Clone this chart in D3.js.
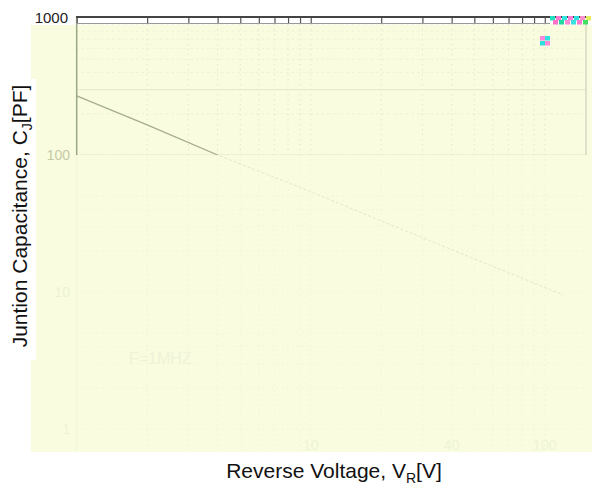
<!DOCTYPE html>
<html>
<head>
<meta charset="utf-8">
<script src="https://cdn.jsdelivr.net/npm/d3@7"></script>
<style>
  body { margin: 0; background: #fff; }
  svg { display: block; font-family: "Liberation Sans", Arial, sans-serif; }
</style>
</head>
<body>
<svg id="chart" width="592" height="491"></svg>
<script>
/* Junction capacitance vs reverse voltage, log-log */

// reverse voltage (V) and junction capacitance (pF)
var voltage = [1, 2, 4, 10, 20, 40, 100, 120];
var capacitance = [270, 166, 100, 54, 33, 20.4, 10.8, 9.5];

// tick labels
var yTickValues = [1000, 100, 10, 1];
var xTickLabels = [10, 40, 100];
var xTickValues = [1, 2, 3, 4, 5, 6, 7, 8, 9, 10, 20, 30, 40, 50, 60, 70, 80, 90, 100];
var yGridValues = [200, 300, 400, 500, 600, 700, 800, 900, 100, 20, 30, 40, 50, 10, 2, 3, 4, 5];

var noteText = "F=1MHZ";

var svg = d3.select("#chart");

var x = d3.scaleLog().domain([1, 150]).range([76.7, 586]);
var y = d3.scaleLog().domain([1, 1000]).range([429, 18]);

// yellow panel
svg.append("rect")
  .attr("x", 31).attr("y", 25)
  .attr("width", 561).attr("height", 427)
  .attr("fill", "#f9fcdf");

// clip for the upper (stronger) part of the plot
var defs = svg.append("defs");
defs.append("clipPath").attr("id", "upper")
  .append("rect").attr("x", 70).attr("y", 10).attr("width", 522).attr("height", 145);

// faint grid over the whole plot
var faint = svg.append("g");
faint.selectAll(".vg").data(xTickValues).enter().append("line")
  .attr("x1", d => x(d)).attr("x2", d => x(d))
  .attr("y1", 24).attr("y2", 450)
  .attr("stroke", "#f2f7d8").attr("stroke-dasharray", "2,3");
faint.selectAll(".hg").data(yGridValues.concat([1])).enter().append("line")
  .attr("x1", 76.7).attr("x2", 586)
  .attr("y1", d => y(d)).attr("y2", d => y(d))
  .attr("stroke", "#f2f7d8").attr("stroke-dasharray", "2,3");

// the curve, faint everywhere
var line = d3.line()
  .x(d => x(d[0]))
  .y(d => y(d[1]));
var pts = d3.zip(voltage, capacitance);

svg.append("path")
  .datum(pts)
  .attr("d", line)
  .attr("fill", "none")
  .attr("stroke", "#e2eac4")
  .attr("stroke-width", 1)
  .attr("stroke-dasharray", "3,2");

// upper region is drawn with more contrast
var up = svg.append("g").attr("clip-path", "url(#upper)");
up.selectAll(".vg").data(xTickValues).enter().append("line")
  .attr("x1", d => x(d)).attr("x2", d => x(d))
  .attr("y1", 24).attr("y2", 155)
  .attr("stroke", "#e3e7c8").attr("stroke-dasharray", "1,4");
up.selectAll(".hg").data(yGridValues.filter(d => d >= 100)).enter().append("line")
  .attr("x1", 76.7).attr("x2", 586)
  .attr("y1", d => y(d)).attr("y2", d => y(d))
  .attr("stroke", d => (d == 300 || d == 100) ? "#e4e8cc" : "#e9ecd2")
  .attr("stroke-dasharray", d => (d == 300 || d == 100) ? null : "1,5");
up.append("path")
  .datum(pts)
  .attr("d", line)
  .attr("fill", "none")
  .attr("stroke", "#a6ad92")
  .attr("stroke-width", 1.2);

// left and right frame
svg.append("line")
  .attr("x1", 76.7).attr("x2", 76.7).attr("y1", 17).attr("y2", 155)
  .attr("stroke", "#98a888").attr("stroke-width", 1.5);
svg.append("line")
  .attr("x1", 76.7).attr("x2", 76.7).attr("y1", 155).attr("y2", 450)
  .attr("stroke", "#f0f7d6");
svg.append("line")
  .attr("x1", 586).attr("x2", 586).attr("y1", 24).attr("y2", 155)
  .attr("stroke", "#c8c9b8");

// top axis with ticks
var topAxis = d3.axisBottom(x)
  .tickValues(xTickValues)
  .tickSize(7)
  .tickFormat("");
var ta = svg.append("g")
  .attr("transform", "translate(0,17)")
  .call(topAxis);
ta.select(".domain").remove();
ta.selectAll(".tick line").attr("stroke", "#555").attr("stroke-width", 1.2);
svg.append("line")
  .attr("x1", 76).attr("x2", 586).attr("y1", 17).attr("y2", 17)
  .attr("stroke", "#444").attr("stroke-width", 2);
svg.append("line")
  .attr("x1", 76).attr("x2", 550).attr("y1", 23.5).attr("y2", 23.5)
  .attr("stroke", "#999").attr("stroke-width", 1);

// y tick labels, fading toward the bottom
var yColors = ["#222", "#c4caa6", "#edf2d4", "#eff4d8"];
svg.selectAll(".ylab").data(yTickValues).enter().append("text")
  .attr("x", d => d == 1000 ? 68 : 70)
  .attr("y", d => y(d) + 5)
  .attr("text-anchor", "end")
  .attr("font-size", d => d == 1000 ? 15 : 14)
  .attr("fill", (d, i) => yColors[i])
  .text(d => d);

// x tick labels (very faint)
svg.selectAll(".xlab").data(xTickLabels).enter().append("text")
  .attr("x", d => x(d))
  .attr("y", 450)
  .attr("text-anchor", "middle")
  .attr("font-size", 14)
  .attr("fill", "#eff4d6")
  .text(d => d);

// note
svg.append("text")
  .attr("x", 129).attr("y", 364)
  .attr("font-size", 16)
  .attr("fill", "#eff3d8")
  .text(noteText);

// white box behind the y title
svg.append("rect")
  .attr("x", 0).attr("y", 79).attr("width", 36).attr("height", 281)
  .attr("fill", "#fff");

// axis titles
var yt = svg.append("text")
  .attr("transform", "translate(27,216) rotate(-90)")
  .attr("text-anchor", "middle")
  .attr("font-size", 21)
  .attr("fill", "#111");
yt.append("tspan").text("Juntion Capacitance, C");
yt.append("tspan").attr("font-size", 14).attr("dy", 5).text("J");
yt.append("tspan").attr("dy", -5).text("[PF]");

var xt = svg.append("text")
  .attr("x", 334).attr("y", 478)
  .attr("text-anchor", "middle")
  .attr("font-size", 21)
  .attr("fill", "#111");
xt.append("tspan").text("Reverse Voltage, V");
xt.append("tspan").attr("font-size", 14).attr("dy", 5).text("R");
xt.append("tspan").attr("dy", -5).text("[V]");

// colour noise at the top right corner
var noise = [[550, 16, "#22e0c0"], [556, 16, "#ff7ad0"], [562, 16, "#33e6e0"], [568, 16, "#ff80d8"],
             [574, 16, "#30e0e0"], [580, 16, "#ff90d0"], [586, 16, "#e0f060"],
             [553, 20, "#ff70c8"], [559, 20, "#20d8a0"], [565, 20, "#ff8ad8"], [571, 20, "#38e0e0"],
             [577, 20, "#ff78d0"], [583, 20, "#40e060"],
             [540, 36, "#ff88d8"], [545, 36, "#30e0e0"], [540, 41, "#30e0e0"], [545, 41, "#ff88d8"]];
svg.selectAll(".nz").data(noise).enter().append("rect")
  .attr("x", d => d[0]).attr("y", d => d[1])
  .attr("width", 5).attr("height", 4.5)
  .attr("fill", d => d[2]);
</script>
</body>
</html>
